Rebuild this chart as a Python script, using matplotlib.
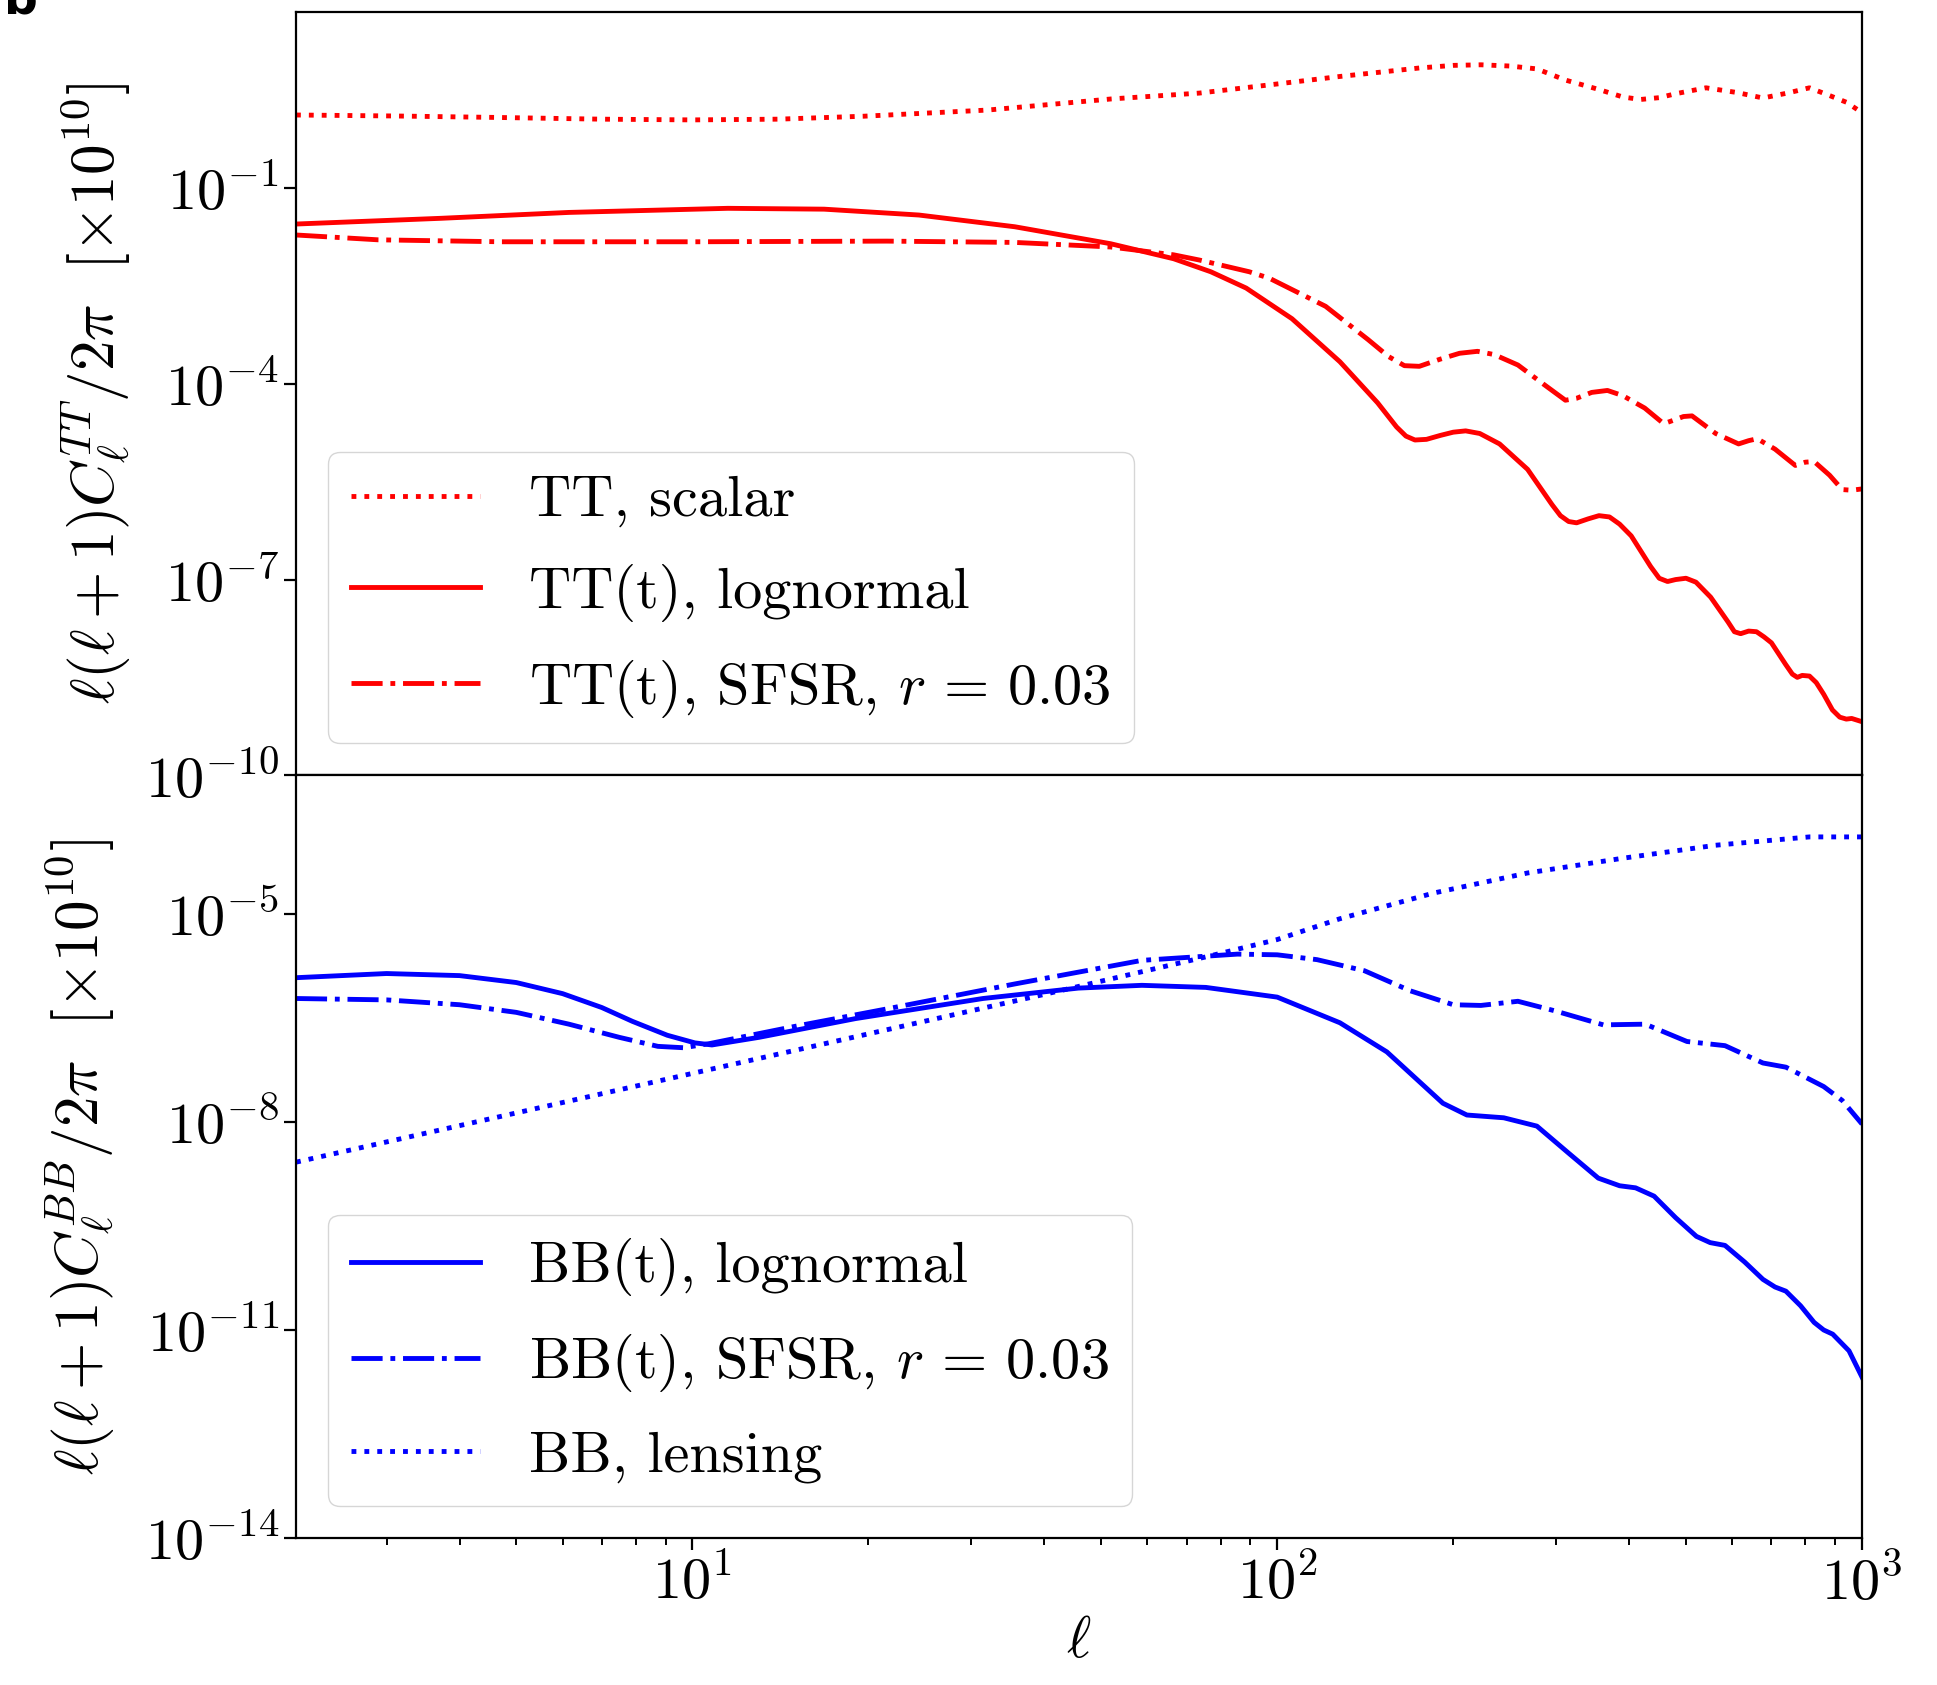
import matplotlib
matplotlib.use('Agg')
import matplotlib.pyplot as plt
import numpy as np
from matplotlib.ticker import NullLocator

plt.rcParams['font.family'] = 'serif'
plt.rcParams['font.serif'] = ['cmr10']
plt.rcParams['mathtext.fontset'] = 'cm'
plt.rcParams['axes.formatter.use_mathtext'] = True

# values, stored as log10 of l(l+1)C_l/2pi [x1e10]
tt_scalar_ell = [2.1, 3.1, 4.6, 7, 10, 14, 19.7, 32, 52, 73.6, 100, 128, 175, 200, 223, 250, 278, 311, 354, 390, 418, 450, 480, 541, 610, 677, 745, 813, 870, 940, 1000]
tt_scalar_log = [0.124, 0.109, 0.087, 0.06, 0.049, 0.06, 0.106, 0.20, 0.37, 0.46, 0.60, 0.715, 0.845, 0.885, 0.894, 0.875, 0.831, 0.66, 0.518, 0.40, 0.362, 0.39, 0.45, 0.541, 0.47, 0.385, 0.46, 0.541, 0.44, 0.32, 0.16]

tt_logn_ell = [2.1, 3.72, 6.15, 11.5, 16.8, 24.4, 35.6, 51.9, 66.5, 77, 88.5, 106, 128, 148.5, 160, 166, 172, 180, 190, 200, 210, 222, 240, 268, 295, 305, 315, 325, 340, 355, 370, 385, 403, 435, 450, 465, 480, 500, 520, 551, 590, 605, 620, 640, 660, 680, 700, 740, 760, 775, 790, 813, 835, 860, 890, 916, 940, 960, 1000]
tt_logn_log = [-1.548, -1.46, -1.37, -1.307, -1.32, -1.41, -1.59, -1.85, -2.08, -2.28, -2.53, -3.0, -3.66, -4.29, -4.66, -4.80, -4.86, -4.85, -4.79, -4.74, -4.72, -4.76, -4.92, -5.31, -5.85, -6.02, -6.11, -6.13, -6.07, -6.02, -6.04, -6.15, -6.33, -6.8, -6.98, -7.03, -7.0, -6.98, -7.04, -7.27, -7.65, -7.8, -7.83, -7.79, -7.8, -7.88, -7.97, -8.3, -8.45, -8.5, -8.47, -8.48, -8.58, -8.76, -9.0, -9.11, -9.14, -9.13, -9.18]

tt_sfsr_ell = [2.1, 2.9, 4.7, 10.1, 21.5, 35.6, 51.9, 66.5, 73.6, 89.6, 97, 121, 143, 155, 165, 175, 190, 205, 220, 235, 258, 285, 311, 325, 345, 367, 390, 425, 458, 475, 495, 512, 562, 615, 640, 662, 710, 769, 800, 828, 880, 925, 960, 1000]
tt_sfsr_log = [-1.716, -1.79, -1.82, -1.82, -1.81, -1.83, -1.90, -2.02, -2.10, -2.28, -2.38, -2.81, -3.32, -3.58, -3.72, -3.73, -3.62, -3.53, -3.50, -3.55, -3.71, -4.0, -4.25, -4.22, -4.13, -4.10, -4.18, -4.37, -4.61, -4.56, -4.5, -4.49, -4.76, -4.92, -4.87, -4.84, -5.0, -5.25, -5.2, -5.19, -5.4, -5.62, -5.63, -5.61]

bb_logn_ell = [2.1, 3.0, 4.0, 5.0, 6.0, 7.0, 7.9, 9.06, 10.1, 10.8, 13.0, 19.0, 31.4, 45.7, 58.7, 75.5, 100, 128, 154, 192, 211, 244, 278, 315, 354, 385, 410, 441, 480, 521, 550, 583, 630, 677, 710, 741, 785, 828, 860, 891, 950, 1000]
bb_logn_log = [-5.92, -5.86, -5.89, -5.99, -6.15, -6.35, -6.55, -6.75, -6.86, -6.89, -6.78, -6.51, -6.22, -6.07, -6.03, -6.06, -6.20, -6.57, -6.99, -7.73, -7.90, -7.94, -8.06, -8.45, -8.81, -8.92, -8.95, -9.07, -9.38, -9.65, -9.74, -9.78, -10.02, -10.27, -10.38, -10.44, -10.65, -10.89, -11.0, -11.06, -11.3, -11.68]

bb_sfsr_ell = [2.1, 3, 4, 5, 6.15, 7.5, 8.73, 9.66, 10.7, 14.8, 21.5, 35.6, 58.7, 85.5, 100, 117, 141, 169, 200, 223, 258, 299, 361, 426, 502, 583, 677, 741, 860, 925, 1000]
bb_sfsr_log = [-6.22, -6.24, -6.31, -6.42, -6.59, -6.78, -6.91, -6.93, -6.87, -6.63, -6.37, -6.01, -5.67, -5.58, -5.59, -5.66, -5.82, -6.11, -6.31, -6.32, -6.26, -6.40, -6.60, -6.59, -6.84, -6.90, -7.15, -7.21, -7.49, -7.69, -8.03]

bb_lens_ell = [2.1, 5, 10, 20, 40, 75.5, 100, 128, 185, 268, 388, 562, 813, 1000]
bb_lens_log = [-8.58, -7.87, -7.30, -6.73, -6.16, -5.62, -5.37, -5.07, -4.70, -4.41, -4.20, -4.01, -3.89, -3.89]

fig, (ax1, ax2) = plt.subplots(2, 1, sharex=True, figsize=(19.37, 16.85), dpi=100)
fig.subplots_adjust(left=0.1528, right=0.9613, bottom=0.0872, top=0.9927, hspace=0)

lw = 3.5
ax1.plot(tt_scalar_ell, 10**np.array(tt_scalar_log), color='red', ls=':', lw=lw, label='TT, scalar')
ax1.plot(tt_logn_ell, 10**np.array(tt_logn_log), color='red', ls='-', lw=lw, label='TT(t), lognormal')
ax1.plot(tt_sfsr_ell, 10**np.array(tt_sfsr_log), color='red', ls='-.', lw=lw, label=r'TT(t), SFSR, $r\,=\,0.03$')

ax2.plot(bb_logn_ell, 10**np.array(bb_logn_log), color='blue', ls='-', lw=lw, label='BB(t), lognormal')
ax2.plot(bb_sfsr_ell, 10**np.array(bb_sfsr_log), color='blue', ls='-.', lw=lw, label=r'BB(t), SFSR, $r\,=\,0.03$')
ax2.plot(bb_lens_ell, 10**np.array(bb_lens_log), color='blue', ls=':', lw=lw, label='BB, lensing')

for ax in (ax1, ax2):
    ax.set_xscale('log')
    ax.set_yscale('log')
    ax.yaxis.set_minor_locator(NullLocator())
    ax.tick_params(which='major', labelsize=42, length=8.5, width=1.6)
    ax.tick_params(which='minor', length=4.8, width=1.4)
    for s in ax.spines.values():
        s.set_linewidth(1.6)
    ax.legend(loc='lower left', fontsize=42, handlelength=2.2, handletextpad=0.85,
              labelspacing=0.62, borderaxespad=0.55)

ax1.set_xlim(2.1, 1000)
ax1.set_ylim(1e-10, 50)
ax1.set_yticks([1e-10, 1e-7, 1e-4, 1e-1])
ax1.tick_params(axis='x', which='both', bottom=False, labelbottom=False)
ax2.set_ylim(1e-14, 1e-3)
ax2.set_yticks([1e-14, 1e-11, 1e-8, 1e-5])

ax1.set_ylabel(r'$\ell(\ell+1)C_\ell^{TT}/2\pi\ \ [\times 10^{10}]$', fontsize=44, labelpad=9)
ax2.set_ylabel(r'$\ell(\ell+1)C_\ell^{BB}/2\pi\ \ [\times 10^{10}]$', fontsize=44, labelpad=20)
ax2.set_xlabel(r'$\ell$', fontsize=42)

fig.text(0.002, 1 - 13 / 1685, 'b', fontsize=34, fontweight='bold', family='DejaVu Sans', va='baseline')

fig.savefig('out.png', dpi=100)
